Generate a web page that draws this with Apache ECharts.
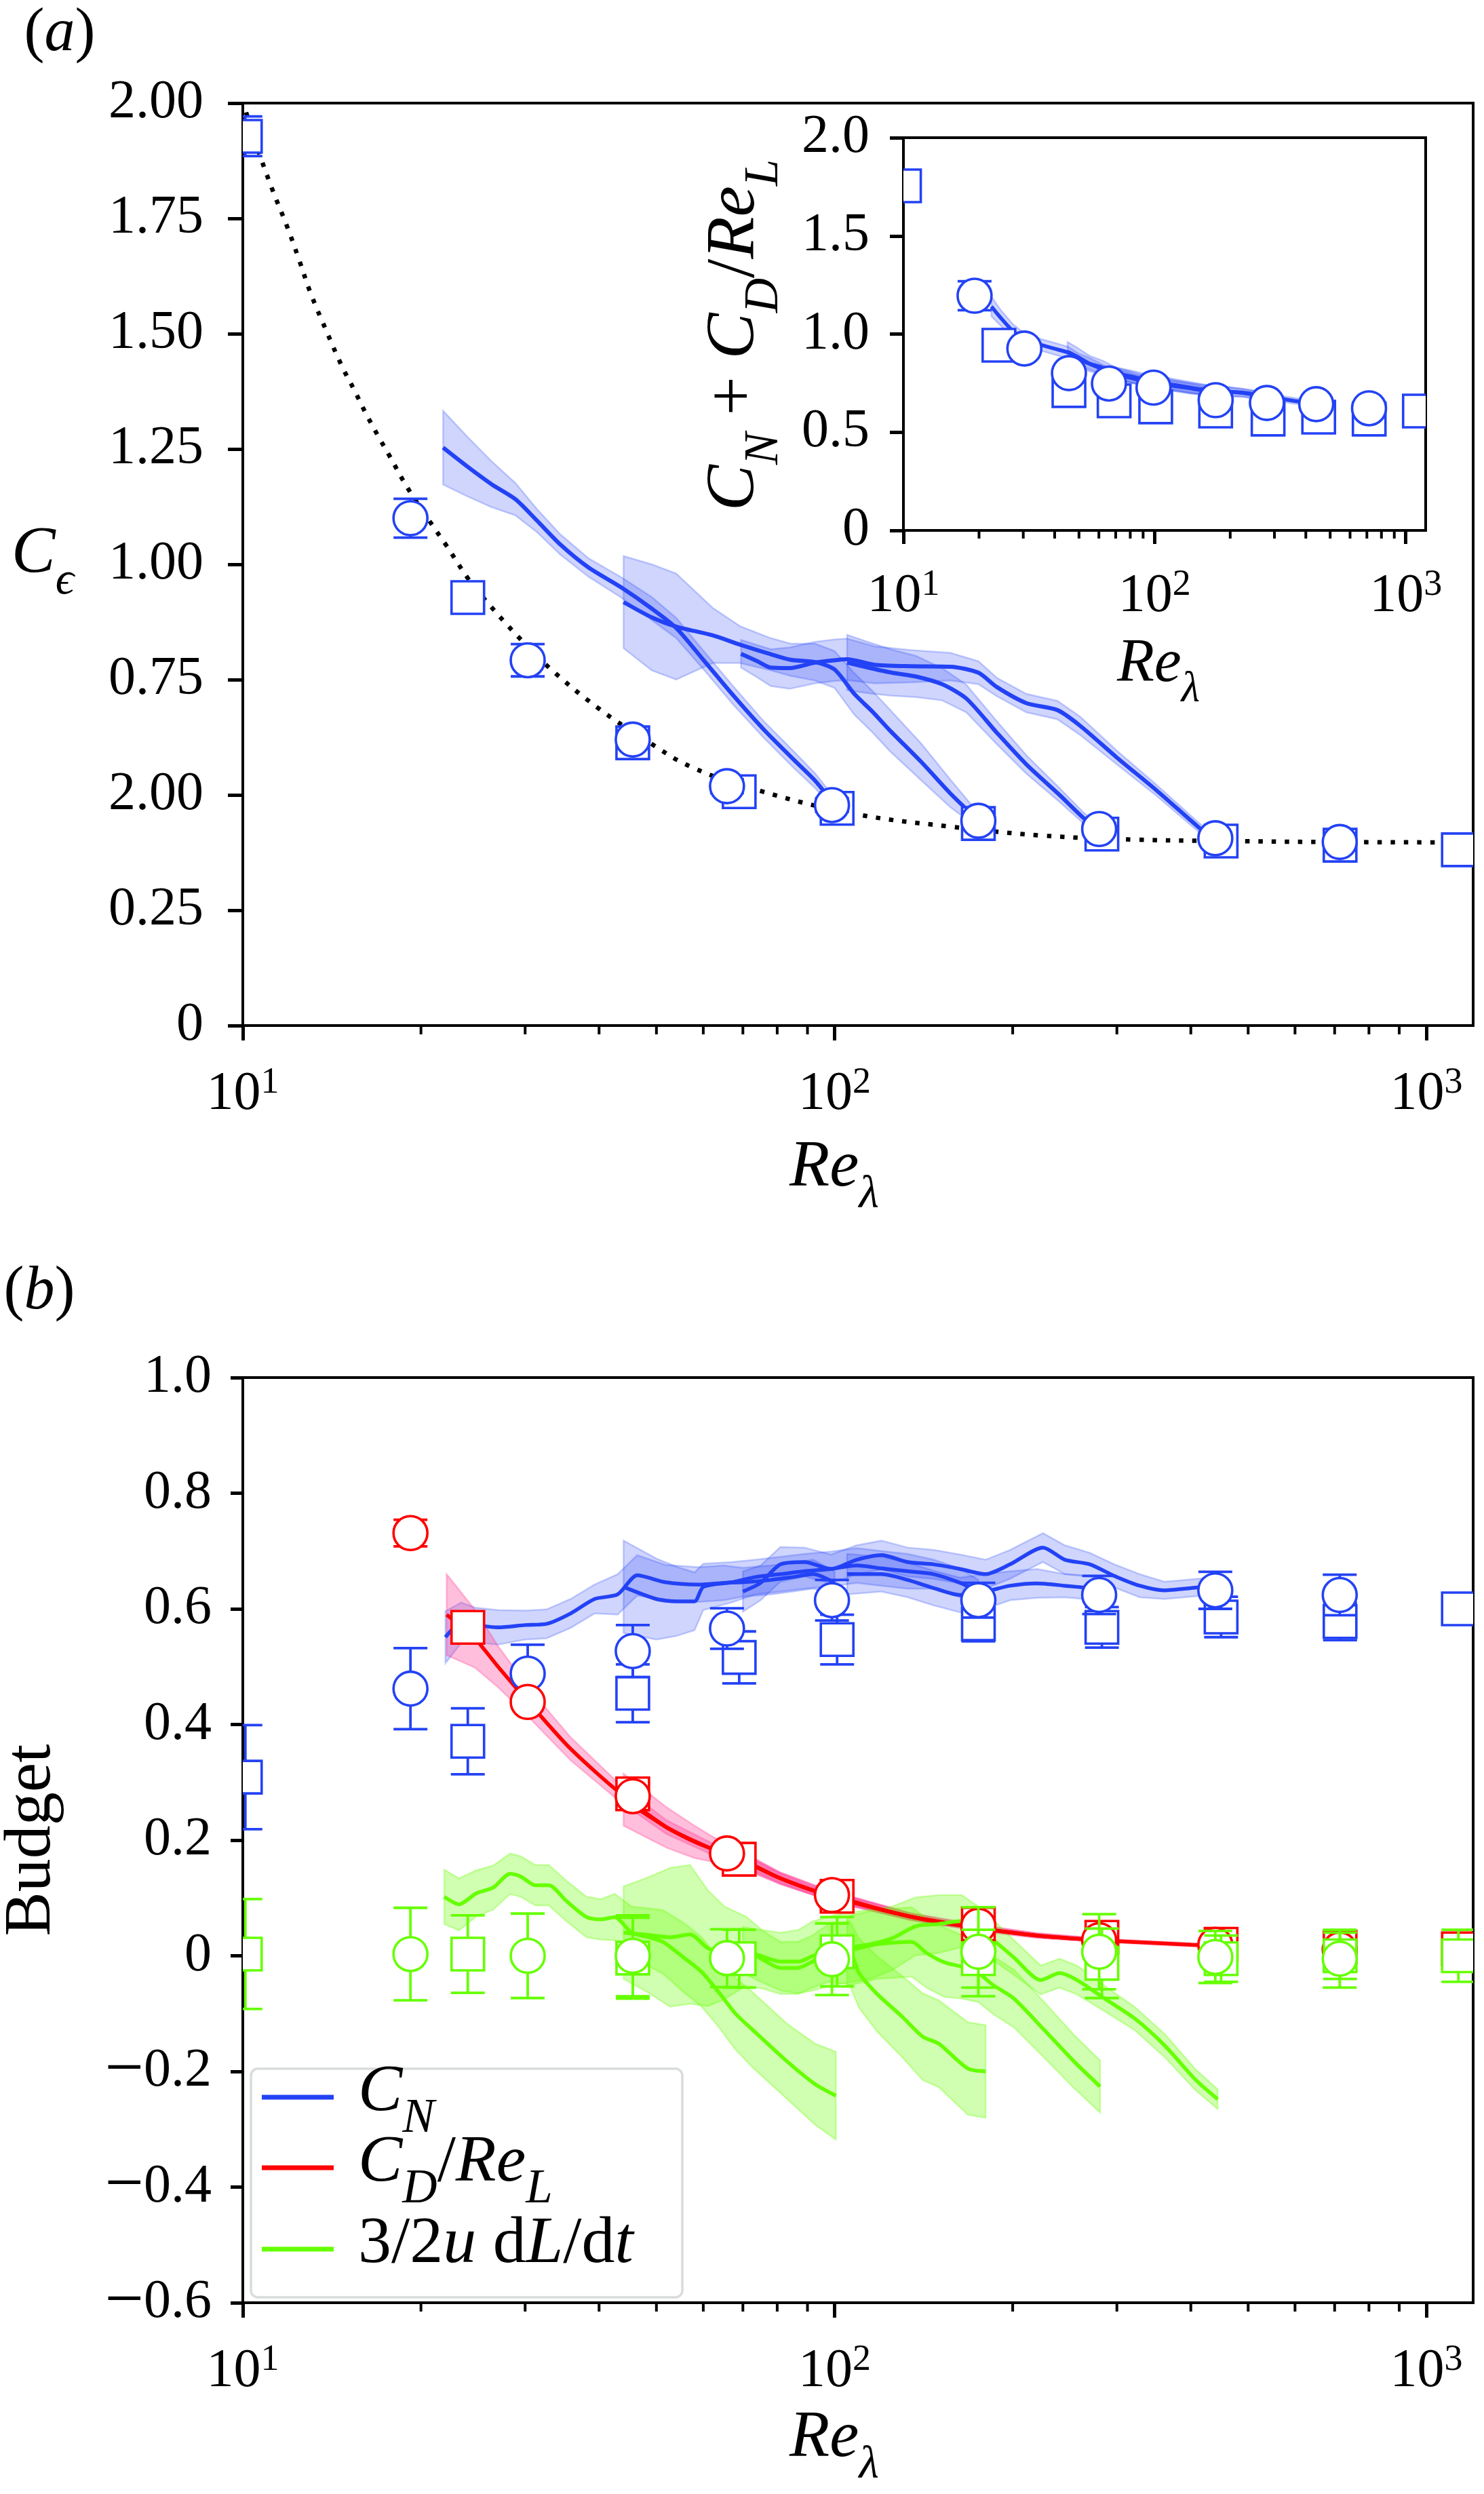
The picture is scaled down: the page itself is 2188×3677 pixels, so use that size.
<!DOCTYPE html>
<html><head><meta charset="utf-8">
<script src="https://cdn.jsdelivr.net/npm/echarts@6.0.0/dist/echarts.min.js"></script>
<style>html,body{margin:0;padding:0;background:#fff}#c{width:2188px;height:3677px}</style>
</head><body><div id="c"></div>
<script>
// ---------------- tick labels ----------------
const xTickValues = [10, 100, 1000];
const xMinorTicks = [20,30,40,50,60,70,80,90,200,300,400,500,600,700,800,900];
const aYTickLabels = ['0','0.25','2.00','0.75','1.00','1.25','1.50','1.75','2.00'];
const insetYTickLabels = ['0','0.5','1.0','1.5','2.0'];
const bYTickLabels = ['\u22120.6','\u22120.4','\u22120.2','0','0.2','0.4','0.6','0.8','1.0'];

// ---------------- marker positions (Re_lambda) ----------------
const circRe = [19.2, 30.3, 45.6, 65.8, 99, 175, 280, 440, 714];
const sqRe = [10.1, 24, 45.6, 69, 101, 175, 283, 450, 715, 1133];

// ---------------- panel (a) ----------------
const aCircC = [1.10, 0.792, 0.62, 0.519, 0.478, 0.444, 0.426, 0.406, 0.398];
const aCircErr = [0.042, 0.035, 0.015, 0.015, 0.015, 0.015, 0.012, 0.012, 0.012];
const aSqC = [1.928, 0.928, 0.613, 0.507, 0.471, 0.438, 0.415, 0.400, 0.391, 0.381];
const aSqErr = [0.043, 0.03, 0.02, 0.02, 0.015, 0.015, 0.015, 0.015, 0.015, 0.015];

const fitRe = [10.13, 10.6, 11.2, 11.9, 12.45, 13.0, 13.8, 14.7, 15.4, 16.1, 16.9, 17.7, 19.0, 20.9, 22.1, 24.0, 25.6, 29.1, 33.0, 39.7, 47.8, 57.4, 74.3, 107, 155, 224, 324, 468, 676, 1200];
const fitC = [1.98, 1.90, 1.815, 1.73, 1.66, 1.59, 1.51, 1.43, 1.38, 1.33, 1.28, 1.235, 1.165, 1.085, 1.04, 0.97, 0.925, 0.845, 0.775, 0.69, 0.62, 0.56, 0.51, 0.46, 0.432, 0.412, 0.403, 0.40, 0.398, 0.397];

const aRunA_Re = [21.8, 23.9, 26.3, 28.9, 31.4, 34.4, 38.4, 43.6, 49.1, 54.0, 60.0, 67.5, 75.9, 85.4, 92.7, 98.4];
const aRunA_C = [1.253, 1.213, 1.174, 1.141, 1.095, 1.043, 0.993, 0.95, 0.904, 0.862, 0.793, 0.715, 0.642, 0.576, 0.531, 0.49];
const aRunA_hw = [0.08, 0.065, 0.05, 0.035, 0.025, 0.022, 0.02, 0.022, 0.025, 0.022, 0.02, 0.02, 0.018, 0.018, 0.016, 0.015];
const aRunB_Re = [44, 49.1, 54, 62.2, 69.2, 77.6, 84.3, 92.7, 100, 108, 116, 124, 140, 157, 170];
const aRunB_C = [0.918, 0.885, 0.865, 0.846, 0.826, 0.806, 0.793, 0.788, 0.772, 0.719, 0.68, 0.64, 0.572, 0.503, 0.46];
const aRunB_hw = [0.10, 0.115, 0.115, 0.06, 0.04, 0.035, 0.035, 0.04, 0.04, 0.045, 0.045, 0.045, 0.04, 0.03, 0.02];
const aRunC_Re = [69.5, 74, 78, 84, 92.7, 100, 105, 117, 135, 157, 175, 188, 211, 238, 260, 300, 350, 413, 432];
const aRunC_C = [0.806, 0.79, 0.776, 0.775, 0.787, 0.792, 0.794, 0.782, 0.779, 0.778, 0.765, 0.734, 0.699, 0.684, 0.65, 0.581, 0.51, 0.429, 0.41];
const aRunC_hw = [0.03, 0.035, 0.04, 0.045, 0.045, 0.045, 0.045, 0.04, 0.035, 0.03, 0.025, 0.02, 0.02, 0.02, 0.02, 0.015, 0.012, 0.01, 0.01];
const aRunD_Re = [105, 115, 125, 137, 152, 167, 188, 211, 240, 264, 276];
const aRunD_C = [0.787, 0.775, 0.765, 0.757, 0.74, 0.709, 0.635, 0.566, 0.50, 0.449, 0.432];
const aRunD_hw = [0.06, 0.055, 0.05, 0.045, 0.035, 0.03, 0.025, 0.02, 0.015, 0.012, 0.01];

// ---------------- inset ----------------
const inCircV = [1.195, 0.926, 0.801, 0.748, 0.727, 0.663, 0.649, 0.643, 0.622];
const inCircErr = [0.074, 0.02, 0.015, 0.015, 0.015, 0.015, 0.012, 0.012, 0.012];
const inSqV = [1.755, 0.943, 0.712, 0.660, 0.629, 0.608, 0.567, 0.577, 0.567, 0.608];
const inSqErr = [0.04, 0.03, 0.02, 0.02, 0.02, 0.015, 0.015, 0.015, 0.015, 0.01];
const inRunA_Re = [22.4, 24.5, 27.3, 30.5, 34.2, 40, 45.4, 50, 54.8, 62, 69.3, 78, 87.8, 100];
const inRunA_V = [1.14, 1.08, 1.015, 0.97, 0.95, 0.925, 0.905, 0.87, 0.85, 0.82, 0.796, 0.78, 0.765, 0.745];
const inRunA_hw = [0.05, 0.04, 0.035, 0.03, 0.03, 0.03, 0.03, 0.03, 0.03, 0.025, 0.025, 0.025, 0.02, 0.02];
const inRunB_Re = [45, 50, 55, 62, 70, 80, 90, 100, 120, 140, 160, 175];
const inRunB_V = [0.91, 0.88, 0.85, 0.83, 0.80, 0.78, 0.765, 0.75, 0.735, 0.723, 0.71, 0.70];
const inRunB_hw = [0.05, 0.045, 0.04, 0.035, 0.03, 0.03, 0.025, 0.025, 0.025, 0.025, 0.02, 0.02];
const inRunC_Re = [70, 80, 90, 100, 120, 140, 180, 224, 260, 284, 320, 359, 400, 432];
const inRunC_V = [0.80, 0.785, 0.77, 0.755, 0.74, 0.725, 0.71, 0.702, 0.69, 0.681, 0.67, 0.66, 0.652, 0.649];
const inRunC_hw = [0.03, 0.03, 0.03, 0.03, 0.025, 0.025, 0.025, 0.02, 0.02, 0.02, 0.015, 0.015, 0.012, 0.012];
const inRunD_Re = [105, 120, 140, 160, 190, 224, 250, 280];
const inRunD_V = [0.75, 0.74, 0.726, 0.715, 0.708, 0.70, 0.69, 0.68];
const inRunD_hw = [0.035, 0.03, 0.03, 0.025, 0.025, 0.02, 0.02, 0.02];

// ---------------- panel (b) ----------------
const bCircCN = [0.462, 0.488, 0.527, 0.566, 0.615, 0.615, 0.624, 0.632, 0.624];
const bCircCNerr = [0.07, 0.05, 0.045, 0.035, 0.035, 0.03, 0.033, 0.032, 0.035];
const bSqCN = [0.309, 0.371, 0.454, 0.516, 0.547, 0.574, 0.568, 0.586, 0.578, 0.60];
const bSqCNerr = [0.09, 0.057, 0.05, 0.045, 0.043, 0.03, 0.035, 0.035, 0.032, 0.01];
const bCircCD = [0.731, 0.439, 0.276, 0.177, 0.105, 0.052, 0.027, 0.019, 0.011];
const bCircCDerr = [0.023, 0.01, 0.01, 0.008, 0.008, 0.005, 0.005, 0.004, 0.004];
const bSqCD = [1.446, 0.568, 0.28, 0.167, 0.103, 0.055, 0.032, 0.02, 0.015, 0.012];
const bSqCDerr = [0.02, 0.01, 0.01, 0.008, 0.008, 0.005, 0.005, 0.004, 0.004, 0.004];
const bCircDL = [0.003, 0.0, 0.0, -0.004, -0.006, 0.007, 0.007, -0.002, -0.005];
const bCircDLerr = [0.08, 0.073, 0.07, 0.05, 0.062, 0.077, 0.065, 0.045, 0.05];
const bSqDL = [0.003, 0.003, -0.004, -0.005, 0.007, -0.005, -0.013, -0.005, 0.0, 0.0];
const bSqDLerr = [0.095, 0.067, 0.07, 0.05, 0.06, 0.05, 0.06, 0.04, 0.04, 0.045];

const bCN_A_Re = [22, 23.4, 24.7, 27, 30, 32.6, 35.8, 39.3, 43, 46.4, 51.8, 59, 65, 70, 78, 85, 92, 100];
const bCN_A_V = [0.551, 0.576, 0.572, 0.568, 0.572, 0.574, 0.592, 0.617, 0.625, 0.658, 0.646, 0.642, 0.645, 0.646, 0.65, 0.655, 0.66, 0.645];
const bCN_A_hw = [0.045, 0.035, 0.03, 0.03, 0.025, 0.025, 0.025, 0.025, 0.035, 0.035, 0.03, 0.03, 0.03, 0.025, 0.025, 0.025, 0.025, 0.02];
const bCN_B_Re = [44, 50, 54, 58, 60, 67, 73.5, 81, 89, 98.6, 109, 120, 133, 147, 163, 175];
const bCN_B_V = [0.638, 0.617, 0.613, 0.613, 0.638, 0.646, 0.655, 0.66, 0.665, 0.669, 0.675, 0.67, 0.665, 0.66, 0.645, 0.63];
const bCN_B_hw = [0.08, 0.07, 0.06, 0.05, 0.04, 0.035, 0.03, 0.03, 0.03, 0.03, 0.03, 0.03, 0.03, 0.025, 0.025, 0.02];
const bCN_C_Re = [70, 75, 81, 89, 98.6, 109, 120, 133, 147, 163, 180, 198, 225, 245, 270, 297, 328, 361, 401, 440];
const bCN_C_V = [0.63, 0.645, 0.677, 0.681, 0.669, 0.685, 0.693, 0.681, 0.677, 0.669, 0.66, 0.677, 0.706, 0.685, 0.677, 0.657, 0.64, 0.632, 0.636, 0.64];
const bCN_C_hw = [0.035, 0.03, 0.03, 0.025, 0.025, 0.025, 0.025, 0.025, 0.025, 0.025, 0.025, 0.025, 0.025, 0.025, 0.02, 0.02, 0.02, 0.015, 0.015, 0.015];
const bCN_D_Re = [105, 120, 133, 147, 163, 180, 198, 220, 245, 270, 280];
const bCN_D_V = [0.66, 0.66, 0.65, 0.636, 0.624, 0.63, 0.64, 0.644, 0.64, 0.636, 0.635];
const bCN_D_hw = [0.035, 0.03, 0.03, 0.03, 0.03, 0.03, 0.025, 0.025, 0.02, 0.02, 0.02];

const bCD_A_Re = [22.1, 24.7, 27.1, 30.8, 35.8, 43.1, 51.9, 62, 70, 81, 90, 100];
const bCD_A_V = [0.59, 0.548, 0.498, 0.432, 0.358, 0.284, 0.223, 0.185, 0.165, 0.134, 0.116, 0.101];
const bCD_A_hw = [0.07, 0.05, 0.035, 0.025, 0.02, 0.015, 0.012, 0.01, 0.01, 0.008, 0.007, 0.006];
const bCD_B_Re = [44, 48, 52, 58, 62, 70, 81, 100, 134, 150, 177];
const bCD_B_V = [0.27, 0.245, 0.222, 0.197, 0.185, 0.165, 0.134, 0.101, 0.068, 0.058, 0.0475];
const bCD_B_hw = [0.045, 0.04, 0.035, 0.028, 0.022, 0.015, 0.01, 0.008, 0.006, 0.005, 0.004];
const bCD_C_Re = [70, 81, 100, 134, 177, 220, 281, 350, 401, 440];
const bCD_C_V = [0.165, 0.134, 0.101, 0.068, 0.0475, 0.035, 0.027, 0.022, 0.019, 0.017];
const bCD_C_hw = [0.012, 0.01, 0.008, 0.006, 0.005, 0.004, 0.003, 0.003, 0.003, 0.003];
const bCD_D_Re = [105, 134, 177, 220, 281];
const bCD_D_V = [0.097, 0.068, 0.0475, 0.035, 0.027];
const bCD_D_hw = [0.008, 0.006, 0.005, 0.004, 0.003];

const bDL_A_Re = [21.9, 23.2, 24.8, 26.5, 28.3, 29.5, 31.2, 32.9, 35.2, 38.1, 40.3, 42.5, 45.4, 48.5, 51.3, 55.6, 59.5, 63.6, 68.0, 72.7, 83.2, 92.7, 100.5];
const bDL_A_V = [0.102, 0.089, 0.108, 0.118, 0.142, 0.137, 0.122, 0.122, 0.095, 0.067, 0.063, 0.067, 0.040, 0.032, 0.024, -0.003, -0.027, -0.062, -0.10, -0.128, -0.183, -0.222, -0.242];
const bDL_A_hw = [0.047, 0.045, 0.04, 0.038, 0.035, 0.035, 0.035, 0.035, 0.035, 0.035, 0.035, 0.04, 0.045, 0.05, 0.055, 0.06, 0.06, 0.06, 0.062, 0.065, 0.065, 0.07, 0.076];
const bDL_B_Re = [44, 48.5, 52.7, 57, 61.1, 65.2, 70.8, 75.7, 81, 86.6, 91.4, 97.7, 106, 110, 118, 130, 141, 150, 168, 180];
const bDL_B_V = [0.04, 0.036, 0.032, 0.037, 0.013, 0.005, 0.008, -0.007, -0.021, -0.021, -0.011, 0.005, 0.005, -0.03, -0.066, -0.105, -0.14, -0.152, -0.195, -0.2];
const bDL_B_hw = [0.08, 0.1, 0.12, 0.12, 0.1, 0.08, 0.06, 0.05, 0.045, 0.045, 0.045, 0.05, 0.055, 0.06, 0.065, 0.07, 0.075, 0.075, 0.08, 0.08];
const bDL_C_Re = [70, 75, 81, 87, 92, 100, 107, 115, 125, 137, 150, 164, 175, 185, 201, 223, 240, 257, 286, 322, 362, 407, 444];
const bDL_C_V = [0.01, 0.0, -0.01, -0.01, 0.0, 0.01, 0.015, 0.02, 0.03, 0.051, 0.055, 0.06, 0.045, 0.028, -0.003, -0.042, -0.03, -0.042, -0.074, -0.109, -0.156, -0.214, -0.248];
const bDL_C_hw = [0.04, 0.045, 0.05, 0.055, 0.06, 0.06, 0.06, 0.06, 0.055, 0.05, 0.05, 0.045, 0.04, 0.035, 0.03, 0.025, 0.025, 0.025, 0.022, 0.02, 0.02, 0.018, 0.017];
const bDL_D_Re = [105, 118, 135, 143, 153, 164, 175, 185, 201, 226, 254, 281];
const bDL_D_V = [0.008, 0.02, 0.024, 0.005, -0.011, -0.019, -0.03, -0.05, -0.074, -0.128, -0.183, -0.226];
const bDL_D_hw = [0.06, 0.06, 0.06, 0.06, 0.06, 0.055, 0.05, 0.05, 0.05, 0.048, 0.046, 0.045];

// ---------------- styling ----------------
const FONT = "'Liberation Serif', 'Times New Roman', serif";
const BLUE = '#2342f5', RED = '#ff0000', GREEN = '#66ff00';
const BLUE_FILL = 'rgba(35,66,245,0.22)', BLUE_EDGE = 'rgba(35,66,245,0.24)';
const RED_FILL = 'rgba(255,60,150,0.33)', RED_EDGE = 'rgba(255,60,150,0.3)';
const GREEN_FILL = 'rgba(102,255,0,0.3)', GREEN_EDGE = 'rgba(102,255,0,0.32)';
const SPINE = 4;

const pairs = (xs, ys) => xs.map((x, i) => [x, ys[i]]);
const triples = (xs, ys, es) => xs.map((x, i) => [x, ys[i], es[i]]);

const supRich = {
  m: {fontSize: 80, fontFamily: FONT, color: '#000', verticalAlign: 'bottom', lineHeight: 84},
  s: {fontSize: 54, fontFamily: FONT, color: '#000', verticalAlign: 'top', lineHeight: 54, padding: [0, 0, 30, 0]}
};
function supLabel(v) {
  const e = Math.round(Math.log10(v));
  return '{m|10}{s|' + e + '}';
}
function mathRich(fs, sub) {
  return {
    i: {fontSize: fs, fontFamily: FONT, fontStyle: 'italic', color: '#000', verticalAlign: 'top', padding: [0, 0, Math.round(fs * 0.26), 0]},
    r: {fontSize: fs, fontFamily: FONT, color: '#000', verticalAlign: 'top', padding: [0, 0, Math.round(fs * 0.26), 0]},
    sub: {fontSize: Math.round(fs * sub), fontFamily: FONT, fontStyle: 'italic', color: '#000', verticalAlign: 'bottom'}
  };
}

function xAxis(grid, margin, majorLen) {
  return {
    type: 'log', logBase: 10, gridIndex: grid, min: 10, max: 1200, position: 'bottom',
    axisLine: {show: true, onZero: false, lineStyle: {color: '#000', width: SPINE}},
    axisTick: {show: true, inside: false, length: majorLen, lineStyle: {color: '#000', width: 5}, customValues: xTickValues},
    axisLabel: {show: true, customValues: xTickValues, formatter: supLabel, rich: supRich, margin: margin},
    splitLine: {show: false}
  };
}
function yAxis(grid, min, max, step, labels, margin, tickLen) {
  return {
    type: 'value', gridIndex: grid, min: min, max: max, interval: step, position: 'left',
    axisLine: {show: true, onZero: false, lineStyle: {color: '#000', width: SPINE}},
    axisTick: {show: true, inside: false, length: tickLen, lineStyle: {color: '#000', width: 5}},
    axisLabel: {
      margin: margin, fontFamily: FONT, fontSize: 80, color: '#000',
      rich: {mn: {fontFamily: FONT, fontSize: 102, color: '#000'}, d: {fontFamily: FONT, fontSize: 80, color: '#000'}},
      formatter: v => {
        const k = Math.round((v - min) / step);
        const s = labels[k] !== undefined ? labels[k] : '';
        return s.charAt(0) === '\u2212' ? '{mn|\u2212}{d|' + s.slice(1) + '}' : s;
      }
    },
    splitLine: {show: false}
  };
}

function band(xi, yi, xs, ys, hw, fill, edge) {
  return {
    type: 'custom', xAxisIndex: xi, yAxisIndex: yi, z: 1, silent: true,
    data: [[xs[0], ys[0]]],
    encode: {x: 0, y: 1},
    renderItem: function (params, api) {
      const up = [], lo = [];
      for (let i = 0; i < xs.length; i++) {
        up.push(api.coord([xs[i], ys[i] + hw[i]]));
        lo.push(api.coord([xs[i], ys[i] - hw[i]]));
      }
      return {type: 'polygon', shape: {points: up.concat(lo.reverse())}, style: {fill: fill, stroke: edge, lineWidth: 2.5}};
    }
  };
}
function runLine(xi, yi, xs, ys, color, w) {
  return {
    type: 'line', xAxisIndex: xi, yAxisIndex: yi, z: 2, silent: true,
    data: pairs(xs, ys), showSymbol: false, symbol: 'none', smooth: 0.25,
    lineStyle: {color: color, width: w}
  };
}
function markers(xi, yi, xs, ys, es, color, shape) {
  return {
    type: 'custom', xAxisIndex: xi, yAxisIndex: yi, z: 3, silent: true, clip: true,
    data: triples(xs, ys, es),
    encode: {x: 0, y: 1},
    renderItem: function (params, api) {
      const x = api.value(0), y = api.value(1), e = api.value(2);
      const c = api.coord([x, y]);
      const pt = api.coord([x, y + e]), pb = api.coord([x, y - e]);
      const st = {stroke: color, lineWidth: 3.8, fill: null};
      const cap = 25;
      const kids = [
        {type: 'line', shape: {x1: pt[0], y1: pt[1], x2: pb[0], y2: pb[1]}, style: st},
        {type: 'line', shape: {x1: pt[0] - cap, y1: pt[1], x2: pt[0] + cap, y2: pt[1]}, style: st},
        {type: 'line', shape: {x1: pb[0] - cap, y1: pb[1], x2: pb[0] + cap, y2: pb[1]}, style: st}
      ];
      if (shape === 'circle') {
        kids.push({type: 'circle', shape: {cx: c[0], cy: c[1], r: 25}, style: {fill: '#fff', stroke: color, lineWidth: 3.6}});
      } else {
        kids.push({type: 'rect', shape: {x: c[0] - 24, y: c[1] - 24, width: 48, height: 48}, style: {fill: '#fff', stroke: color, lineWidth: 3.6}});
      }
      return {type: 'group', children: kids};
    }
  };
}

const series = [];
// panel (a): xAxis 0, yAxis 0
[[aRunA_Re, aRunA_C, aRunA_hw], [aRunB_Re, aRunB_C, aRunB_hw], [aRunC_Re, aRunC_C, aRunC_hw], [aRunD_Re, aRunD_C, aRunD_hw]].forEach(r => {
  series.push(band(0, 0, r[0], r[1], r[2], BLUE_FILL, BLUE_EDGE));
  series.push(runLine(0, 0, r[0], r[1], BLUE, 6));
});
series.push({
  type: 'line', xAxisIndex: 0, yAxisIndex: 0, z: 2, silent: true, data: pairs(fitRe, fitC),
  showSymbol: false, symbol: 'none', smooth: 0.4,
  lineStyle: {color: '#000', width: 6.5, type: [6.5, 13], cap: 'butt'}
});
series.push(markers(0, 0, sqRe, aSqC, aSqErr, BLUE, 'rect'));
series.push(markers(0, 0, circRe, aCircC, aCircErr, BLUE, 'circle'));

// inset: xAxis 1, yAxis 1
[[inRunA_Re, inRunA_V, inRunA_hw], [inRunB_Re, inRunB_V, inRunB_hw], [inRunC_Re, inRunC_V, inRunC_hw], [inRunD_Re, inRunD_V, inRunD_hw]].forEach(r => {
  series.push(band(1, 1, r[0], r[1], r[2], BLUE_FILL, BLUE_EDGE));
  series.push(runLine(1, 1, r[0], r[1], BLUE, 5.5));
});
series.push(markers(1, 1, sqRe, inSqV, inSqErr, BLUE, 'rect'));
series.push(markers(1, 1, circRe, inCircV, inCircErr, BLUE, 'circle'));

// panel (b): xAxis 2, yAxis 2
[[bCN_A_Re, bCN_A_V, bCN_A_hw], [bCN_B_Re, bCN_B_V, bCN_B_hw], [bCN_C_Re, bCN_C_V, bCN_C_hw], [bCN_D_Re, bCN_D_V, bCN_D_hw]].forEach(r => {
  series.push(band(2, 2, r[0], r[1], r[2], BLUE_FILL, BLUE_EDGE));
  series.push(runLine(2, 2, r[0], r[1], BLUE, 5.5));
});
[[bCD_A_Re, bCD_A_V, bCD_A_hw], [bCD_B_Re, bCD_B_V, bCD_B_hw], [bCD_C_Re, bCD_C_V, bCD_C_hw], [bCD_D_Re, bCD_D_V, bCD_D_hw]].forEach(r => {
  series.push(band(2, 2, r[0], r[1], r[2], RED_FILL, RED_EDGE));
  series.push(runLine(2, 2, r[0], r[1], RED, 5.5));
});
[[bDL_A_Re, bDL_A_V, bDL_A_hw], [bDL_B_Re, bDL_B_V, bDL_B_hw], [bDL_C_Re, bDL_C_V, bDL_C_hw], [bDL_D_Re, bDL_D_V, bDL_D_hw]].forEach(r => {
  series.push(band(2, 2, r[0], r[1], r[2], GREEN_FILL, GREEN_EDGE));
  series.push(runLine(2, 2, r[0], r[1], GREEN, 5.5));
});
series.push(markers(2, 2, sqRe, bSqCN, bSqCNerr, BLUE, 'rect'));
series.push(markers(2, 2, circRe, bCircCN, bCircCNerr, BLUE, 'circle'));
series.push(markers(2, 2, sqRe, bSqCD, bSqCDerr, RED, 'rect'));
series.push(markers(2, 2, circRe, bCircCD, bCircCDerr, RED, 'circle'));
series.push(markers(2, 2, sqRe, bSqDL, bSqDLerr, GREEN, 'rect'));
series.push(markers(2, 2, circRe, bCircDL, bCircDLerr, GREEN, 'circle'));

function gtext(x, y, text, rich, rot, align) {
  return {type: 'text', x: x, y: y, rotation: rot || 0, z: 100,
    style: {text: text, rich: rich, align: align || 'center', verticalAlign: 'middle'}};
}
const legendY = [3092, 3196, 3316];
const legendColors = [BLUE, RED, GREEN];
const legendTexts = ['{i|C}{sub|N}', '{i|C}{sub|D}{r|/}{i|Re}{sub|L}', '{r|3/2}{i|u}{r| d}{i|L}{r|/d}{i|t}'];
const graphics = [
  gtext(88, 62, '{r|(}{i|a}{r|)}', mathRich(90, 0.7)),
  gtext(58, 1917, '{r|(}{i|b}{r|)}', mathRich(90, 0.7)),
  gtext(63, 830, '{i|C}{sub|\u03F5}', mathRich(97, 0.7)),
  gtext(1230, 1735, '{i|Re}{sub|\u03BB}', mathRich(97, 0.7)),
  gtext(1230, 3608, '{i|Re}{sub|\u03BB}', mathRich(97, 0.7)),
  gtext(1708, 992, '{i|Re}{sub|\u03BB}', mathRich(90, 0.7)),
  gtext(1098, 494, '{i|C}{sub|N}{r| + }{i|C}{sub|D}{r|/}{i|Re}{sub|L}', mathRich(102, 0.7), Math.PI / 2),
  gtext(60, 2713, '{r|Budget}', mathRich(98, 0.7), Math.PI / 2),
  {type: 'rect', z: 90, shape: {x: 370, y: 3050, width: 636, height: 337, r: 10},
    style: {fill: 'rgba(255,255,255,0.85)', stroke: '#d8dcdc', lineWidth: 3.5}}
];
legendY.forEach((y, i) => {
  graphics.push({type: 'line', z: 95, shape: {x1: 386, y1: y, x2: 492, y2: y}, style: {stroke: legendColors[i], lineWidth: 7}});
  graphics.push({type: 'text', x: 528, y: y + 6, z: 100, style: {text: legendTexts[i], rich: mathRich(98, 0.72), align: 'left', verticalAlign: 'middle'}});
});

const option = {
  animation: false,
  backgroundColor: '#fff',
  grid: [
    {left: 358, top: 152, width: 1814, height: 1360, show: true, borderColor: '#000', borderWidth: SPINE},
    {left: 1332, top: 203, width: 770, height: 579, show: true, borderColor: '#000', borderWidth: SPINE, backgroundColor: '#fff'},
    {left: 358, top: 2031, width: 1814, height: 1364, show: true, borderColor: '#000', borderWidth: SPINE}
  ],
  xAxis: [xAxis(0, 58, 22), xAxis(1, 54, 20), xAxis(2, 58, 22)],
  yAxis: [
    yAxis(0, 0, 2, 0.25, aYTickLabels, 58, 22),
    yAxis(1, 0, 2, 0.5, insetYTickLabels, 50, 20),
    yAxis(2, -0.6, 1.0, 0.2, bYTickLabels, 46, 18)
  ],
  series: series,
  graphic: graphics
};
const chart = echarts.init(document.getElementById('c'), null, {width: 2188, height: 3677});
chart.setOption(option);

// minor ticks of the log axes, positioned through the axes' own scales
const tickSpec = [
  {g: 0, ymin: 0, minor: 13},
  {g: 1, ymin: 0, minor: 12},
  {g: 2, ymin: -0.6, minor: 13}
];
function px1(v) { return Array.isArray(v) ? v[0] : v; }
function py1(v) { return Array.isArray(v) ? v[1] : v; }
const tickEls = [];
tickSpec.forEach(s => {
  const yb = py1(chart.convertToPixel({yAxisIndex: s.g}, s.ymin));
  xMinorTicks.forEach(v => {
    const px = px1(chart.convertToPixel({xAxisIndex: s.g}, v));
    if (isFinite(px) && isFinite(yb)) {
      tickEls.push({type: 'line', z: 120, silent: true, shape: {x1: px, y1: yb, x2: px, y2: yb + s.minor},
        style: {stroke: '#000', lineWidth: 4}});
    }
  });
});
chart.setOption({graphic: {elements: graphics.concat(tickEls)}});
</script></body></html>
